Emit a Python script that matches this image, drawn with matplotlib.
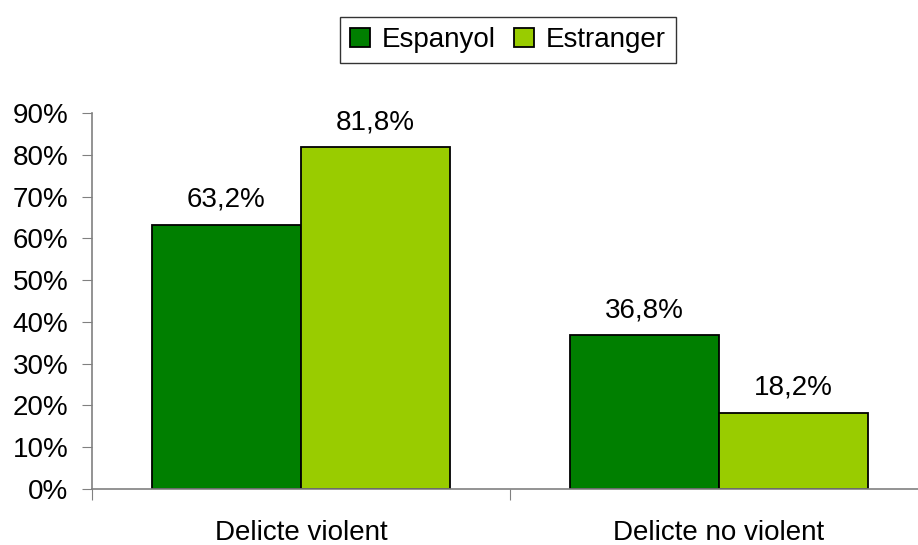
import numpy as np
import matplotlib.pyplot as plt
from matplotlib.ticker import FuncFormatter

plt.rcParams['font.family'] = ['Liberation Sans', 'DejaVu Sans']

categories = ['Delicte violent', 'Delicte no violent']
series_names = ['Espanyol', 'Estranger']
espanyol = [63.2, 36.8]
estranger = [81.8, 18.2]
colors = ['#007F00', '#99CC00']

fig = plt.figure(figsize=(9.18, 5.45), dpi=100)
ax = fig.add_axes([92/918, 1-489/545, 836/918, 376/545])

x = np.arange(len(categories))
w = 0.357
b1 = ax.bar(x - w/2, espanyol, w, color=colors[0], edgecolor='black', linewidth=1.3, label=series_names[0])
b2 = ax.bar(x + w/2, estranger, w, color=colors[1], edgecolor='black', linewidth=1.3, label=series_names[1])

# value labels above bars
for bars, vals in ((b1, espanyol), (b2, estranger)):
    for r, v in zip(bars, vals):
        ax.annotate(f'{v:.1f}%'.replace('.', ','), (r.get_x() + r.get_width()/2, v),
                    xytext=(0, 13), textcoords='offset points',
                    ha='center', va='baseline', fontsize=20)

ax.set_xlim(-0.5, 1.5)
ax.set_ylim(0, 90)
ax.set_yticks(np.arange(0, 91, 10))
ax.yaxis.set_major_formatter(FuncFormatter(lambda v, p: f'{v:.0f}%'))
ax.set_xticks([-0.5, 0.5, 1.5])
ax.set_xticklabels([])
ax.set_xticks(x, minor=True)
ax.set_xticklabels(categories, minor=True)
ax.tick_params(axis='x', which='minor', length=0, pad=22, labelsize=20)
ax.tick_params(axis='x', which='major', length=8, color='#808080', direction='out')
ax.tick_params(axis='y', length=7, color='#808080', labelsize=20, pad=10)

for s in ['top', 'right']:
    ax.spines[s].set_visible(False)
for s in ['left', 'bottom']:
    ax.spines[s].set_color('#808080')
    ax.spines[s].set_linewidth(1.2)

leg = fig.legend(loc='center', bbox_to_anchor=(508/918, 1-40/545), ncol=2, fontsize=20,
                 frameon=True, fancybox=False, edgecolor='black', handlelength=0.7,
                 handleheight=0.65, handletextpad=0.43, columnspacing=0.68, borderpad=0.35)
leg.get_frame().set_linewidth(1.0)

fig.savefig('out.png', dpi=100)
